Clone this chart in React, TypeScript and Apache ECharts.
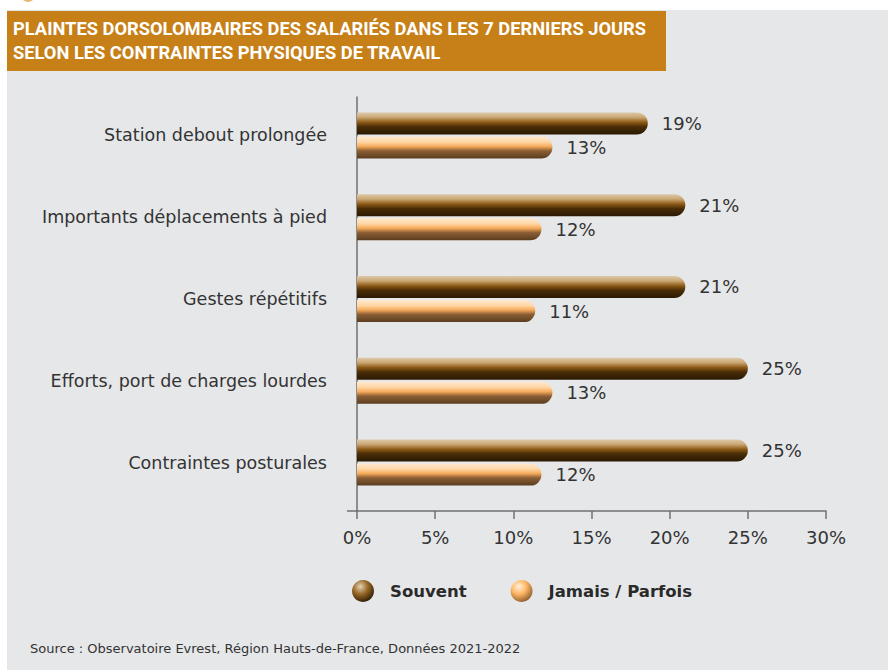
import React, { useEffect, useRef } from "react";
import * as echarts from "echarts";

const categories = [
  "Station debout prolongée",
  "Importants déplacements à pied",
  "Gestes répétitifs",
  "Efforts, port de charges lourdes",
  "Contraintes posturales",
];
const souvent = [18.6, 21.0, 21.0, 25.0, 25.0];
const jamaisParfois = [12.5, 11.8, 11.4, 12.5, 11.8];
const seriesNames = ["Souvent", "Jamais / Parfois"];
const titleText =
  "PLAINTES DORSOLOMBAIRES DES SALARIÉS DANS LES 7 DERNIERS JOURS\nSELON LES CONTRAINTES PHYSIQUES DE TRAVAIL";
const sourceText =
  "Source : Observatoire Evrest, Région Hauts-de-France, Données 2021-2022";

const FONT = "'DejaVu Sans', sans-serif";
const TITLE_FONT = "Roboto, sans-serif";

const grad = (stops: [number, string][]) =>
  new echarts.graphic.LinearGradient(
    0,
    0,
    0,
    1,
    stops.map(([offset, color]) => ({ offset, color }))
  );
const radial = (stops: [number, string][]) =>
  new echarts.graphic.RadialGradient(
    0.38,
    0.3,
    0.75,
    stops.map(([offset, color]) => ({ offset, color }))
  );

export default function App() {
  const ref = useRef<HTMLDivElement>(null);
  useEffect(() => {
    if (!ref.current) return;
    const chart = echarts.init(ref.current, null, { renderer: "svg" });
    const souventColor = grad([
      [0, "#ddc9aa"],
      [0.22, "#cba874"],
      [0.45, "#8c5a16"],
      [0.65, "#4a2d07"],
      [1, "#2a1903"],
    ]);
    const jamaisColor = grad([
      [0, "#ffe9cf"],
      [0.25, "#ffd6a4"],
      [0.45, "#f5aa5a"],
      [0.65, "#8b5e35"],
      [1, "#5a3d1f"],
    ]);
    const labelCommon = {
      show: true,
      position: "right" as const,
      distance: 14,
      color: "#333",
      fontSize: 18,
      fontFamily: FONT,
      formatter: (p: any) => Math.round(p.value) + "%",
    };
    chart.setOption({
      animation: false,
      backgroundColor: "#ffffff",
      textStyle: { fontFamily: FONT },
      graphic: [
        {
          type: "rect",
          z: -10,
          shape: { x: 7, y: 10, width: 881, height: 660 },
          style: { fill: "#e6e7e9" },
        },
        {
          type: "rect",
          z: -9,
          shape: { x: 7, y: 11, width: 659, height: 60 },
          style: { fill: "#c77f17" },
        },
        {
          type: "circle",
          z: -9,
          shape: { cx: 28, cy: -5, r: 7 },
          style: { fill: "#e8b878" },
        },
        {
          type: "text",
          x: 30,
          y: 648,
          style: {
            text: sourceText,
            fill: "#333",
            fontSize: 13,
            fontFamily: FONT,
            verticalAlign: "middle",
          },
        },
      ],
      title: {
        text: titleText,
        left: 13,
        top: 16,
        padding: 0,
        textStyle: {
          color: "#ffffff",
          fontSize: 18.3,
          fontWeight: "bold",
          lineHeight: 24,
          fontFamily: TITLE_FONT,
        },
      },
      legend: {
        left: 352,
        top: 580,
        itemWidth: 22,
        itemHeight: 22,
        itemGap: 44,
        padding: 0,
        textStyle: {
          fontSize: 16.5,
          fontWeight: "bold",
          color: "#2a2a2a",
          fontFamily: FONT,
          padding: [0, 0, 0, 11],
        },
        data: [
          {
            name: seriesNames[0],
            icon: "circle",
            itemStyle: {
              color: radial([
                [0, "#e3d3b6"],
                [0.45, "#9a6a28"],
                [1, "#2a1903"],
              ]),
            },
          },
          {
            name: seriesNames[1],
            icon: "circle",
            itemStyle: {
              color: radial([
                [0, "#fff0da"],
                [0.45, "#ffb866"],
                [1, "#8a5a2a"],
              ]),
            },
          },
        ],
      },
      grid: [
        { left: 357, width: 469, top: 94.6, height: 408.8 },
        { left: 357, width: 469, top: 97, height: 414 },
      ],
      xAxis: [
        { type: "value", gridIndex: 0, min: 0, max: 30, show: false },
        {
          type: "value",
          gridIndex: 1,
          min: 0,
          max: 30,
          interval: 5,
          axisLine: { show: true, lineStyle: { color: "#707070", width: 1.5 } },
          axisTick: { show: true, length: 8, lineStyle: { color: "#707070", width: 1.5 } },
          splitLine: { show: false },
          axisLabel: {
            formatter: "{value}%",
            fontSize: 18,
            color: "#333",
            margin: 17,
            fontFamily: FONT,
          },
        },
      ],
      yAxis: [
        {
          type: "category",
          gridIndex: 0,
          data: categories,
          inverse: true,
          axisLine: { show: false },
          axisTick: { show: false },
          axisLabel: {
            fontSize: 17.5,
            color: "#333",
            margin: 30,
            fontFamily: FONT,
          },
        },
        {
          type: "value",
          gridIndex: 1,
          min: 0,
          max: 1,
          axisLine: { show: true, lineStyle: { color: "#707070", width: 1.5 } },
          axisTick: {
            show: true,
            length: 10,
            customValues: [0],
            lineStyle: { color: "#707070", width: 1.5 },
          },
          axisLabel: { show: false },
          splitLine: { show: false },
        },
      ],
      series: [
        {
          name: seriesNames[0],
          type: "bar",
          xAxisIndex: 0,
          yAxisIndex: 0,
          data: souvent,
          barWidth: 22,
          barGap: "10%",
          itemStyle: { color: souventColor, borderRadius: [0, 11, 11, 0] },
          label: labelCommon,
        },
        {
          name: seriesNames[1],
          type: "bar",
          xAxisIndex: 0,
          yAxisIndex: 0,
          data: jamaisParfois,
          barWidth: 22,
          barGap: "10%",
          itemStyle: { color: jamaisColor, borderRadius: [0, 11, 11, 0] },
          label: labelCommon,
        },
      ],
    });
    return () => chart.dispose();
  }, []);
  return (
    <div
      ref={ref}
      style={{ position: "fixed", left: 0, top: 0, width: 888, height: 670 }}
    />
  );
}
